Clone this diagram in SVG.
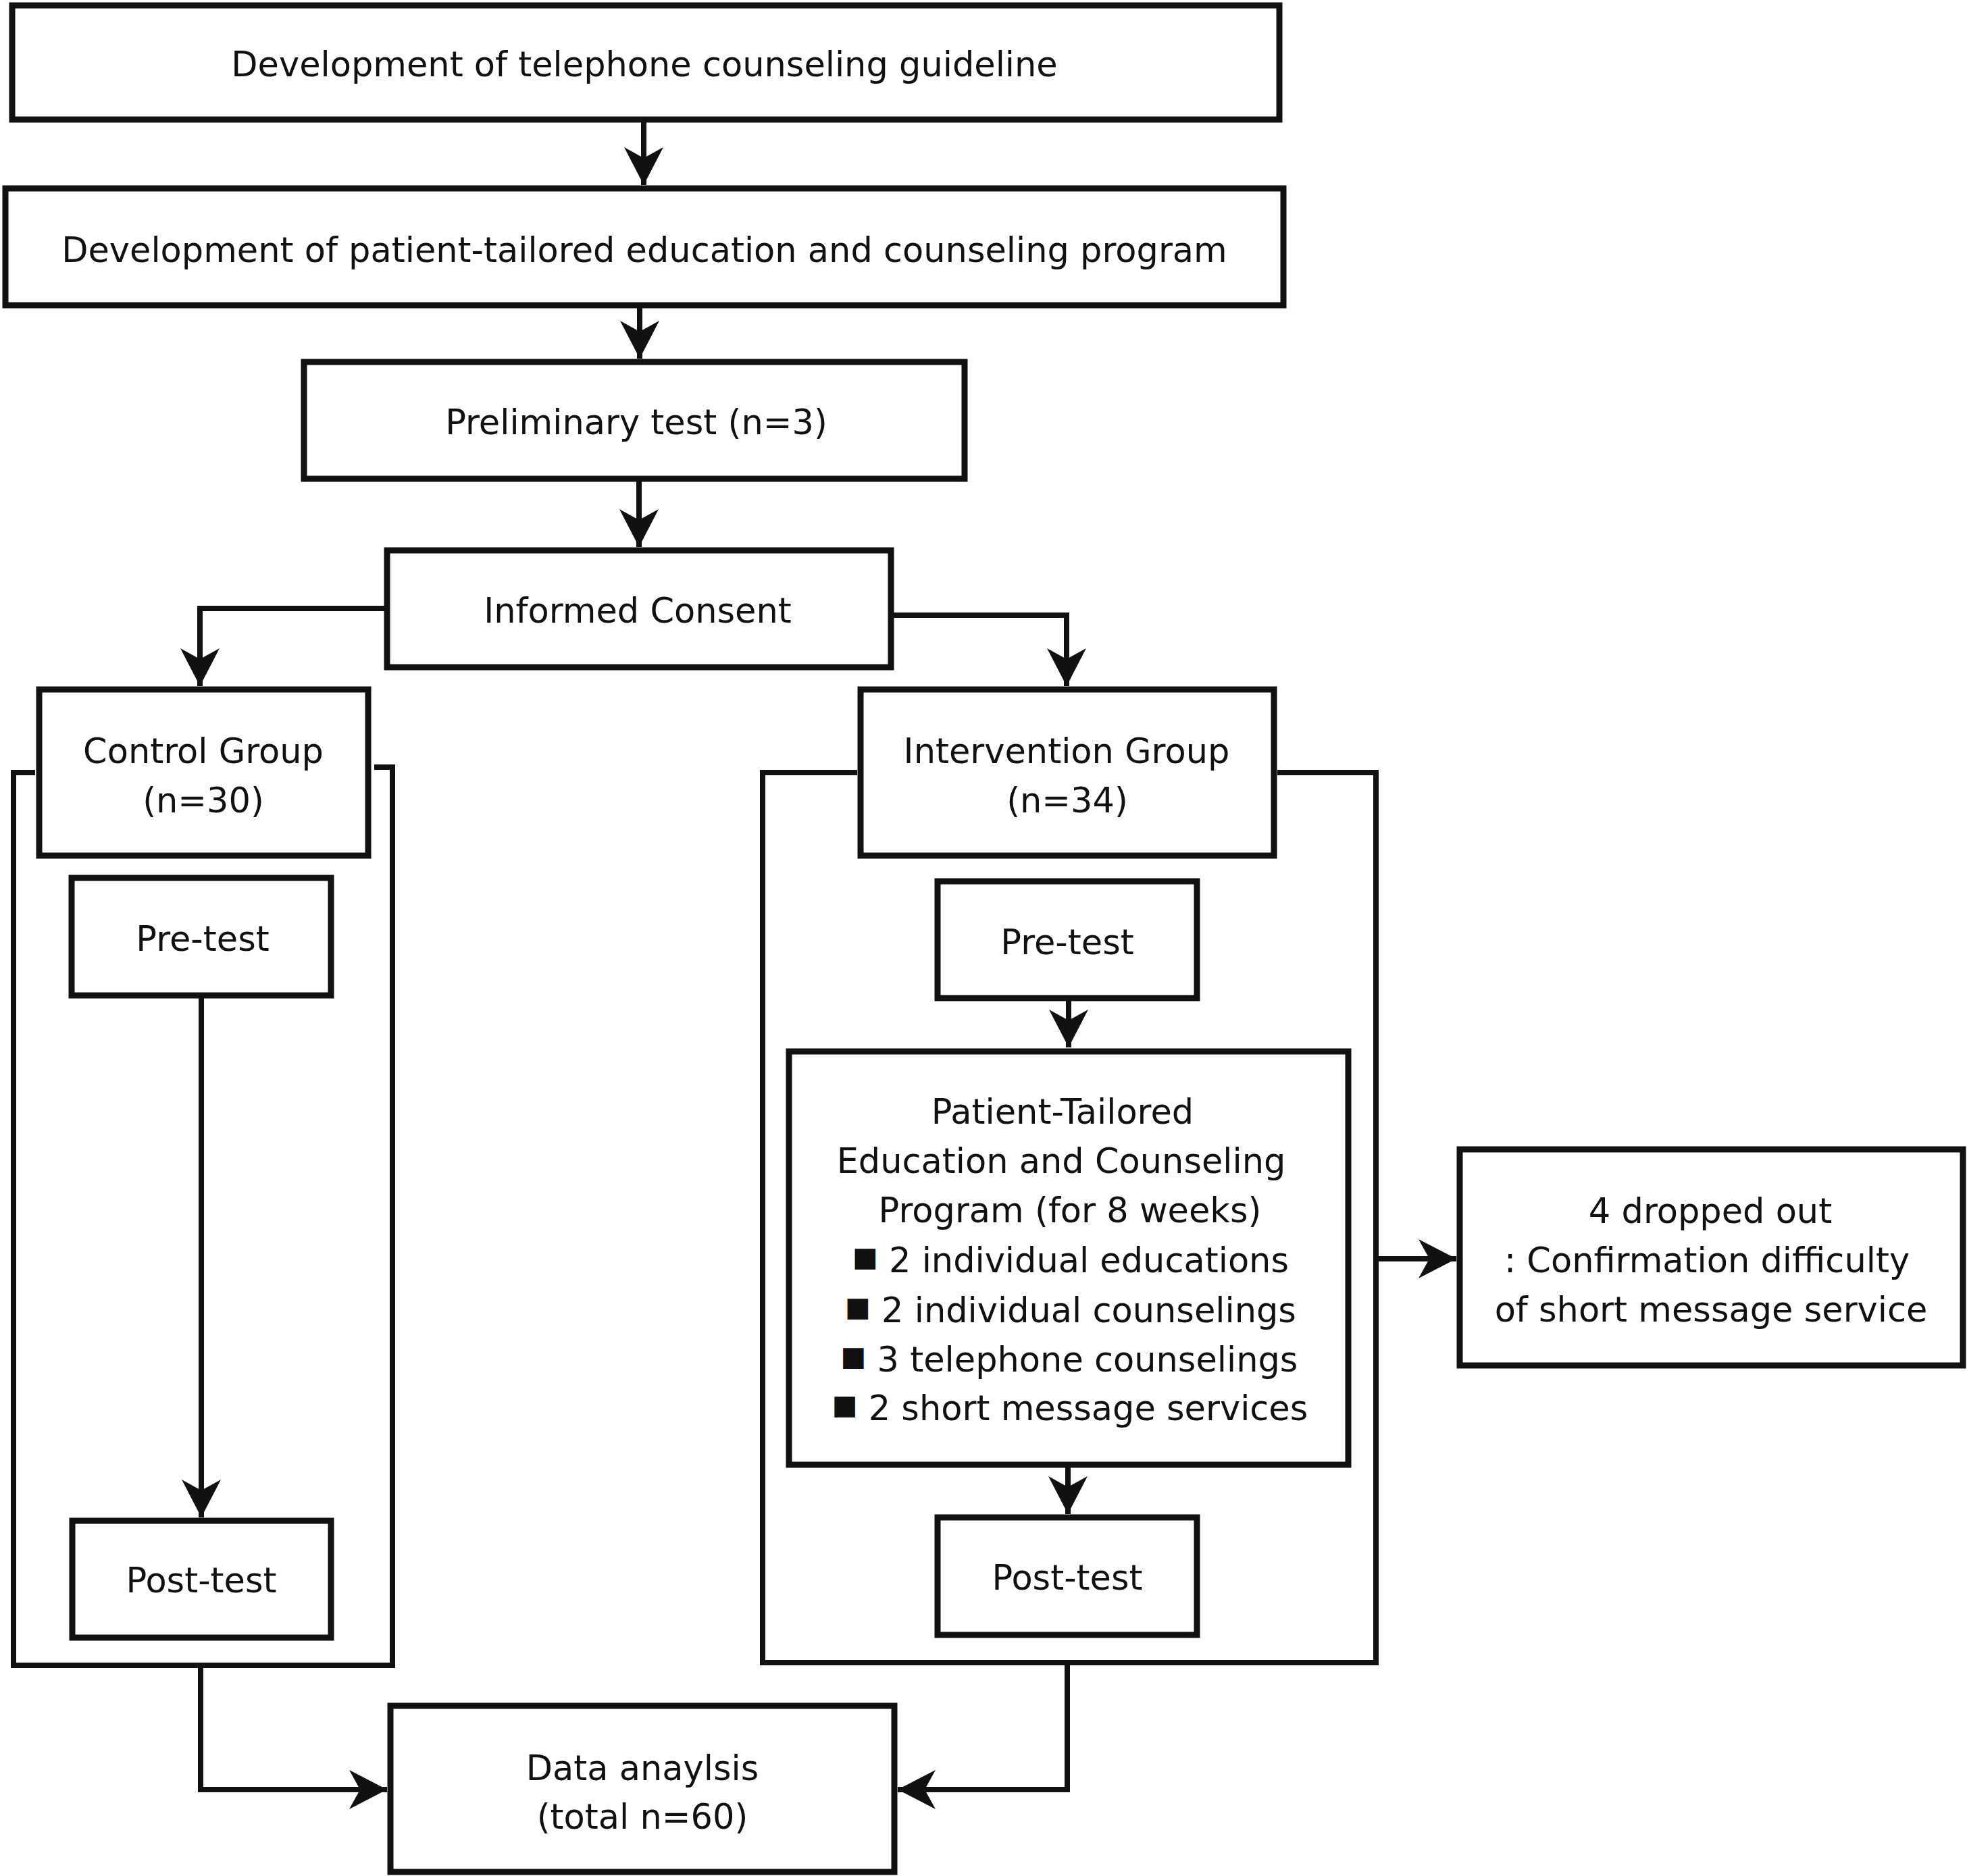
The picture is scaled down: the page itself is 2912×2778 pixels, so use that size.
<svg xmlns="http://www.w3.org/2000/svg" width="2912" height="2778" viewBox="0 0 2912 2778">
<style>
.box{fill:#fff;stroke:#111;stroke-width:9}
.frame{fill:none;stroke:#111;stroke-width:8}
.conn{fill:none;stroke:#111;stroke-width:8}
text{font-family:"DejaVu Sans",Verdana,sans-serif;font-size:51px;fill:#111;text-anchor:middle}
.bul{font-size:40px}
</style>
<defs>
<marker id="ah" viewBox="-58 -31 60 62" refX="0" refY="0" markerWidth="60" markerHeight="62" markerUnits="userSpaceOnUse" orient="auto">
<path d="M0,0 L-56,-29 L-40,0 L-56,29 Z" fill="#111"/>
</marker>
</defs>
<rect width="2912" height="2778" fill="#fff"/>
<g id="frames">
<path id="control-frame" class="frame" d="M52 1144 H20 V2466 H581 V1136 H554"/>
<path id="intervention-frame" class="frame" d="M1269 1144 H1129 V2462 H2037 V1144 H1891"/>
</g>
<g id="n-guideline"><rect class="box" x="18" y="8" width="1876" height="169"/><text x="954" y="113">Development of telephone counseling guideline</text></g>
<g id="n-program-dev"><rect class="box" x="8" y="279" width="1892" height="173"/><text x="954" y="388">Development of patient-tailored education and counseling program</text></g>
<g id="n-preliminary"><rect class="box" x="450" y="536" width="978" height="173"/><text x="942" y="643">Preliminary test (n=3)</text></g>
<g id="n-consent"><rect class="box" x="573" y="815" width="746" height="173"/><text x="944" y="922">Informed Consent</text></g>
<g id="n-control"><rect class="box" x="58" y="1021" width="487" height="246"/><text x="301" y="1130">Control Group</text><text x="301" y="1203">(n=30)</text></g>
<g id="n-control-pre"><rect class="box" x="106" y="1300" width="384" height="174"/><text x="300" y="1408">Pre-test</text></g>
<g id="n-control-post"><rect class="box" x="107" y="2252" width="383" height="173"/><text x="298" y="2358">Post-test</text></g>
<g id="n-intervention"><rect class="box" x="1274" y="1021" width="612" height="246"/><text x="1579" y="1130">Intervention Group</text><text x="1580" y="1203">(n=34)</text></g>
<g id="n-int-pre"><rect class="box" x="1388" y="1305" width="384" height="173"/><text x="1580" y="1413">Pre-test</text></g>
<g id="n-program"><rect class="box" x="1168" y="1557" width="828" height="612"/>
<text x="1573" y="1664">Patient-Tailored</text>
<text x="1571" y="1737">Education and Counseling</text>
<text x="1584" y="1810">Program (for 8 weeks)</text>
<text x="1585" y="1884"><tspan class="bul" dy="-9">■</tspan><tspan dy="9"> 2 individual educations</tspan></text>
<text x="1585" y="1958"><tspan class="bul" dy="-9">■</tspan><tspan dy="9"> 2 individual counselings</tspan></text>
<text x="1583" y="2031"><tspan class="bul" dy="-9">■</tspan><tspan dy="9"> 3 telephone counselings</tspan></text>
<text x="1584" y="2103"><tspan class="bul" dy="-9">■</tspan><tspan dy="9"> 2 short message services</tspan></text>
</g>
<g id="n-int-post"><rect class="box" x="1388" y="2247" width="384" height="174"/><text x="1580" y="2354">Post-test</text></g>
<g id="n-dropout"><rect class="box" x="2161" y="1702" width="745" height="320"/><text x="2532" y="1811">4 dropped out</text><text x="2527" y="1884">: Confirmation difficulty</text><text x="2533" y="1957">of short message service</text></g>
<g id="n-data"><rect class="box" x="578" y="2526" width="746" height="246"/><text x="951" y="2636">Data anaylsis</text><text x="951" y="2708">(total n=60)</text></g>
<g id="connectors">
<path class="conn" d="M953 181 V274" marker-end="url(#ah)"/>
<path class="conn" d="M947 456 V531" marker-end="url(#ah)"/>
<path class="conn" d="M946 713 V810" marker-end="url(#ah)"/>
<path class="conn" d="M569 901 H296 V1016" marker-end="url(#ah)"/>
<path class="conn" d="M1323 911 H1579 V1016" marker-end="url(#ah)"/>
<path class="conn" d="M298 1478 V2247" marker-end="url(#ah)"/>
<path class="conn" d="M1582 1482 V1551" marker-end="url(#ah)"/>
<path class="conn" d="M1581 2173 V2242" marker-end="url(#ah)"/>
<path class="conn" d="M2041 1864 H2156" marker-end="url(#ah)"/>
<path class="conn" d="M297 2470 V2650 H573" marker-end="url(#ah)"/>
<path class="conn" d="M1580 2466 V2650 H1329" marker-end="url(#ah)"/>
</g>
</svg>
